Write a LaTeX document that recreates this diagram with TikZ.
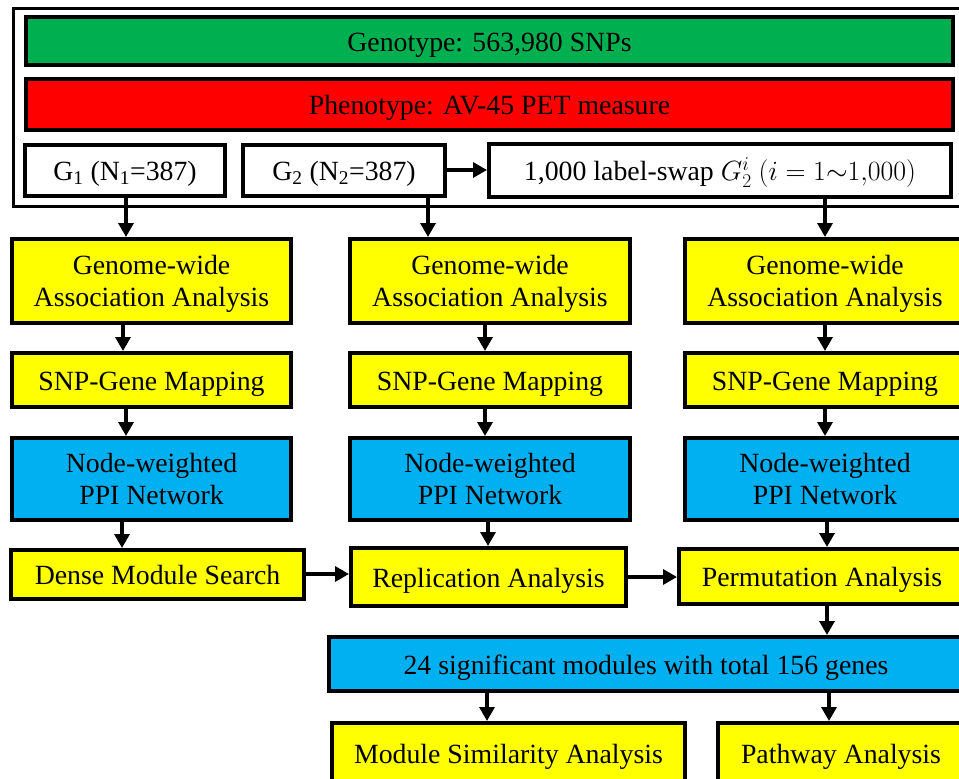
\RequirePackage{fix-cm}
\documentclass[tikz,border=0pt]{standalone}
\usepackage{fontspec}
\setmainfont{Liberation Serif}
\usetikzlibrary{arrows.meta}
\definecolor{cgreen}{HTML}{00B050}
\definecolor{cred}{HTML}{FF0000}
\definecolor{cyellow}{HTML}{FFFF00}
\definecolor{cblue}{HTML}{00B0F0}
\begin{document}
\begin{tikzpicture}[x=1pt,y=-1pt,
  box/.style={draw=black, line width=4pt, inner sep=0pt, align=center,
    font=\fontsize{27.8}{32.5}\selectfont, text height=26pt, text depth=6pt},
  two/.style={text height=57pt, text depth=6pt},
  ybox/.style={box, fill=cyellow},
  bbox/.style={box, fill=cblue},
  wbox/.style={box, fill=white},
  arr/.style={line width=3.3pt, -{Triangle[length=14pt,width=15pt]}}
]
\clip (0,0) rectangle (959,779);
\fill[white] (0,0) rectangle (959,779);

% outer frame
\node[draw=black, line width=3pt, inner sep=0pt, minimum width=948pt, minimum height=198pt] (frame) at (487.5,107.5) {};

% top rows
\node[box, fill=cgreen, minimum width=927pt, minimum height=48pt] (geno) at (489.5,41) {Genotype: 563,980 SNPs};
\node[box, fill=cred, minimum width=927pt, minimum height=51pt] (pheno) at (489.5,104.5) {Phenotype: AV-45 PET measure};
\node[wbox, minimum width=200pt, minimum height=51pt] (g1) at (125,170.5) {G\textsubscript{1} (N\textsubscript{1}=387)};
\node[wbox, minimum width=202pt, minimum height=51pt] (g2) at (344,170.5) {G\textsubscript{2} (N\textsubscript{2}=387)};
\node[wbox, minimum width=462pt, minimum height=53pt] (swap) at (720,170.5) {1,000 label-swap $G_2^i$ $(i=1{\sim}1{,}000)$};

% GWAS row
\node[ybox, two, minimum width=279pt, minimum height=84pt] (gwas1) at (151.5,281) {Genome-wide\\Association Analysis};
\node[ybox, two, minimum width=280pt, minimum height=84pt] (gwas2) at (490,281) {Genome-wide\\Association Analysis};
\node[ybox, two, minimum width=280pt, minimum height=84pt] (gwas3) at (825,281) {Genome-wide\\Association Analysis};

% SNP-gene row
\node[ybox, minimum width=279pt, minimum height=54pt] (snp1) at (151.5,380) {SNP-Gene Mapping};
\node[ybox, minimum width=280pt, minimum height=54pt] (snp2) at (490,380) {SNP-Gene Mapping};
\node[ybox, minimum width=280pt, minimum height=54pt] (snp3) at (825,380) {SNP-Gene Mapping};

% PPI row
\node[bbox, two, minimum width=279pt, minimum height=82pt] (ppi1) at (151.5,479) {Node-weighted\\PPI Network};
\node[bbox, two, minimum width=280pt, minimum height=82pt] (ppi2) at (490,479) {Node-weighted\\PPI Network};
\node[bbox, two, minimum width=280pt, minimum height=82pt] (ppi3) at (825,479) {Node-weighted\\PPI Network};

% analysis row
\node[ybox, minimum width=293pt, minimum height=49pt] (dense) at (157.5,574.5) {Dense Module Search};
\node[ybox, minimum width=275pt, minimum height=58pt] (repl) at (488.5,577) {Replication Analysis};
\node[ybox, minimum width=286pt, minimum height=55pt] (perm) at (822,576.5) {Permutation Analysis};

% significant modules
\node[bbox, minimum width=634pt, minimum height=54pt] (sig) at (646,664) {24 significant modules with total 156 genes};

% bottom row
\node[ybox, minimum width=353pt, minimum height=60pt] (modsim) at (508.5,753) {Module Similarity Analysis};
\node[ybox, minimum width=246pt, minimum height=60pt] (path) at (841,753) {Pathway Analysis};

% column coordinates for arrows
\coordinate (xa) at (126,0);
\coordinate (xb) at (123,0);
\coordinate (xc) at (122,0);
\coordinate (xd) at (428,0);
\coordinate (xe) at (485,0);
\coordinate (xf) at (488,0);
\coordinate (xg) at (825,0);
\coordinate (xh) at (827,0);
\coordinate (xi) at (829,0);
\coordinate (xj) at (487,0);
\coordinate (ya) at (0,170);
\coordinate (yb) at (0,574);
\coordinate (yc) at (0,577);

% arrows
\draw[arr] (g1.south -| xa) -- (gwas1.north -| xa);
\draw[arr] (gwas1.south -| xb) -- (snp1.north -| xb);
\draw[arr] (snp1.south -| xa) -- (ppi1.north -| xa);
\draw[arr] (ppi1.south -| xc) -- (dense.north -| xc);

\draw[arr] (g2.south -| xd) -- (gwas2.north -| xd);
\draw[arr] (gwas2.south -| xe) -- (snp2.north -| xe);
\draw[arr] (snp2.south -| xe) -- (ppi2.north -| xe);
\draw[arr] (ppi2.south -| xf) -- (repl.north -| xf);

\draw[arr] (swap.south -| xg) -- (gwas3.north -| xg);
\draw[arr] (gwas3.south -| xg) -- (snp3.north -| xg);
\draw[arr] (snp3.south -| xg) -- (ppi3.north -| xg);
\draw[arr] (ppi3.south -| xh) -- (perm.north -| xh);
\draw[arr] (perm.south -| xh) -- (sig.north -| xh);
\draw[arr] (sig.south -| xi) -- (path.north -| xi);
\draw[arr] (sig.south -| xj) -- (modsim.north -| xj);

\draw[arr] (g2.east |- ya) -- (swap.west |- ya);
\draw[arr] (dense.east |- yb) -- (repl.west |- yb);
\draw[arr] (repl.east |- yc) -- (perm.west |- yc);
\end{tikzpicture}
\end{document}
